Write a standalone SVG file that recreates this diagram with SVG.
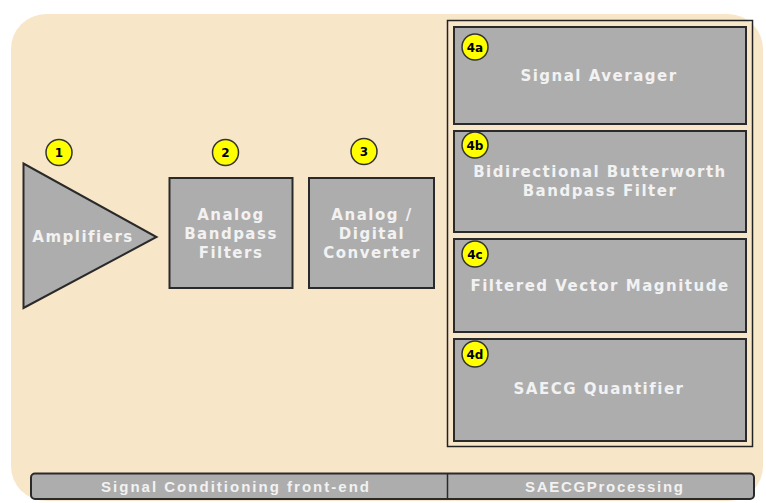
<svg xmlns="http://www.w3.org/2000/svg" width="766" height="503" viewBox="0 0 766 503">
<style>
.box{fill:#adadad;stroke:#2a2a2a;stroke-width:2}
.lbl{font-family:"DejaVu Sans",Verdana,sans-serif;font-weight:bold;font-size:15px;fill:#f2f2f2;text-anchor:middle;letter-spacing:1.5px}
.badge{fill:#ffff00;stroke:#333;stroke-width:1.5}
.bt{font-family:"DejaVu Sans",Verdana,sans-serif;font-weight:bold;font-size:12px;fill:#000;text-anchor:middle}
.bar{font-family:"Liberation Sans",Arial,sans-serif;font-weight:bold;font-size:15px;fill:#f2f2f2;text-anchor:middle}
</style>
<rect width="766" height="503" fill="#ffffff"/>
<rect id="background" x="11" y="14" width="752" height="487" rx="35" fill="#f8e6c8"/>
<g id="connectors"></g>
<g id="panel-saecg">
<rect x="447.5" y="20.5" width="305" height="426" fill="none" stroke="#222" stroke-width="1.5"/>
</g>
<g id="n1">
<polygon points="23.5,163.5 23.5,308 156.5,237" class="box" stroke-width="1.2"/>
<text x="83" y="242" class="lbl">Amplifiers</text>
<circle cx="59" cy="152.5" r="13" class="badge"/>
<text x="59" y="157" class="bt">1</text>
</g>
<g id="n2">
<rect x="169.5" y="178" width="123" height="110" class="box"/>
<text x="231" y="220" class="lbl">Analog</text>
<text x="231" y="239" class="lbl">Bandpass</text>
<text x="231" y="258" class="lbl">Filters</text>
<circle cx="225.5" cy="152.5" r="13" class="badge"/>
<text x="225.5" y="157" class="bt">2</text>
</g>
<g id="n3">
<rect x="309" y="178" width="125" height="110" class="box"/>
<text x="372" y="220" class="lbl">Analog /</text>
<text x="372" y="239" class="lbl">Digital</text>
<text x="372" y="258" class="lbl">Converter</text>
<circle cx="364" cy="151.5" r="13" class="badge"/>
<text x="364" y="156" class="bt">3</text>
</g>
<g id="n4a">
<rect x="454" y="27" width="292" height="97" class="box"/>
<text x="599" y="81" class="lbl">Signal Averager</text>
<circle cx="475" cy="47" r="13" class="badge"/>
<text x="475" y="51.5" class="bt">4a</text>
</g>
<g id="n4b">
<rect x="454" y="131" width="292" height="101" class="box"/>
<text x="600" y="177" class="lbl">Bidirectional Butterworth</text>
<text x="600" y="196" class="lbl">Bandpass Filter</text>
<circle cx="475" cy="145" r="13" class="badge"/>
<text x="475" y="149.5" class="bt">4b</text>
</g>
<g id="n4c">
<rect x="454" y="239" width="292" height="93" class="box"/>
<text x="600" y="291" class="lbl">Filtered Vector Magnitude</text>
<circle cx="475" cy="254" r="13" class="badge"/>
<text x="475" y="258.5" class="bt">4c</text>
</g>
<g id="n4d">
<rect x="454" y="339" width="292" height="102" class="box"/>
<text x="599" y="394" class="lbl">SAECG Quantifier</text>
<circle cx="475" cy="354" r="13" class="badge"/>
<text x="475" y="358.5" class="bt">4d</text>
</g>
<g id="bottom-bar">
<rect x="31" y="473.5" width="723" height="25.5" rx="4" class="box" stroke-width="1.5"/>
<line x1="447.5" y1="473.5" x2="447.5" y2="499" stroke="#2a2a2a" stroke-width="1.5"/>
<text x="235" y="492" class="bar" textLength="268" lengthAdjust="spacing">Signal Conditioning front-end</text>
<text x="604" y="492" class="bar" textLength="158" lengthAdjust="spacing">SAECGProcessing</text>
</g>
</svg>
